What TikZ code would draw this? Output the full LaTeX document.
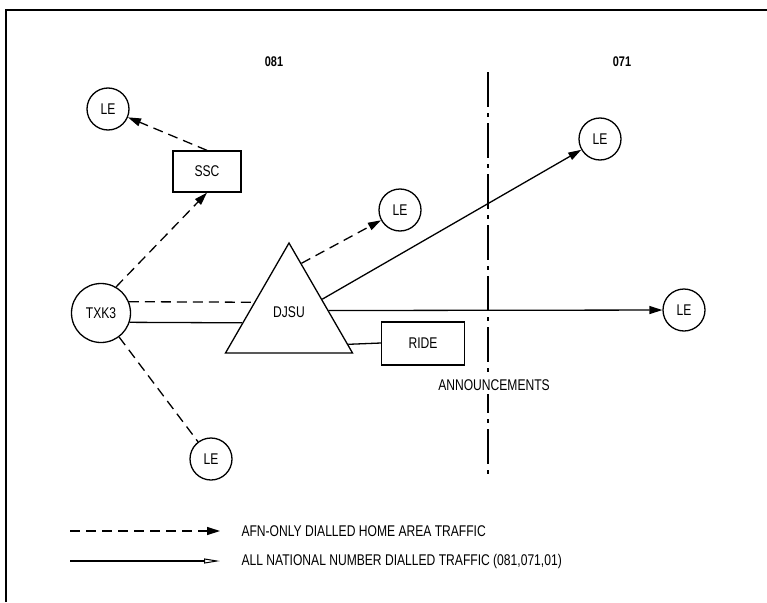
\documentclass[tikz,border=0pt]{standalone}
\usepackage{fontspec}
\setmainfont{Liberation Sans}[FakeStretch=0.78]
\usetikzlibrary{arrows.meta,shapes.geometric,calc}
\begin{document}
\begin{tikzpicture}[x=1pt,y=-1pt,
  every node/.style={font=\fontsize{15.5}{17}\selectfont},
  lnk/.style={line width=1.3pt},
  dsh/.style={lnk,dash pattern=on 10pt off 6pt},
  tip/.style={-{Triangle[length=13pt,width=8pt]}},
  opentip/.style={-{Triangle[open,length=16pt,width=5pt,line width=1pt]}},
  le/.style={circle,draw,line width=1.3pt,minimum size=42pt,inner sep=0pt},
  boxn/.style={draw,line width=1.3pt,inner sep=0pt},
  zone/.style={font=\fontsize{14}{16}\selectfont\bfseries},
  axisline/.style={line width=1.3pt,dash pattern=on 35pt off 6pt on 4pt off 6pt},
  frameline/.style={line width=1.5pt}
]
\useasboundingbox (0,0) rectangle (767,602);
% frame
\coordinate (fb) at (6,602);
\coordinate (fc) at (6,10);
\coordinate (fr) at (767,10);
\draw[frameline] (fb) -- (fc) -- (fr);
% zone labels and boundary
\node[zone] (z081) at (274,62) {081};
\node[zone] (z071) at (622,62) {071};
\coordinate (vt) at (488,72);
\coordinate (vb) at (488,478);
\draw[axisline] (vt) -- (vb);
% nodes
\node[le] (le1) at (108,109) {LE};
\node[boxn,minimum width=68pt,minimum height=41pt] (ssc) at (207,171.5) {SSC};
\node[circle,draw,line width=1.3pt,minimum size=59pt,inner sep=0pt] (txk) at (101,313) {TXK3};
\node[regular polygon,regular polygon sides=3,draw,line width=1.3pt,minimum size=146.6pt,inner sep=0pt,label={[yshift=4pt]center:DJSU}] (dj) at (289,316.3) {};
\node[le] (le2) at (400,210) {LE};
\node[le] (le3) at (600,139) {LE};
\node[le] (le4) at (684,310) {LE};
\node[le] (le5) at (211,459) {LE};
\node[boxn,minimum width=83pt,minimum height=43pt] (ride) at (423,343.5) {RIDE};
\node[fill=white,inner xsep=1pt,inner ysep=4pt] (ann) at (494,385) {ANNOUNCEMENTS};
% connectors
\draw[dsh,tip] (txk.60) -- (ssc.south);
\draw[dsh,tip] (ssc.north) -- (le1);
\draw[dsh] (txk.22) -- ($(dj.corner 1)!0.541!(dj.corner 2)$);
\draw[lnk] (txk.-18) -- ($(dj.corner 1)!0.725!(dj.corner 2)$);
\draw[dsh] (txk) -- (le5);
\draw[dsh,tip] ($(dj.corner 1)!0.193!(dj.corner 3)$) -- (le2);
\draw[lnk,tip] ($(dj.corner 1)!0.514!(dj.corner 3)$) -- (le3);
\draw[lnk,tip] ($(dj.corner 1)!0.615!(dj.corner 3)$) -- (le4);
\draw[lnk] ($(dj.corner 1)!0.917!(dj.corner 3)$) -- (ride.west |- 0,343);
% legend
\coordinate (l1a) at (70,531);
\coordinate (l1b) at (220,531);
\draw[dsh,tip] (l1a) -- (l1b);
\node[anchor=west] (l1t) at (238,531) {AFN-ONLY DIALLED HOME AREA TRAFFIC};
\coordinate (l2a) at (70,561);
\coordinate (l2b) at (220,561);
\draw[lnk,opentip] (l2a) -- (l2b);
\node[anchor=west] (l2t) at (238,561) {ALL NATIONAL NUMBER DIALLED TRAFFIC (081,071,01)};
\end{tikzpicture}
\end{document}
